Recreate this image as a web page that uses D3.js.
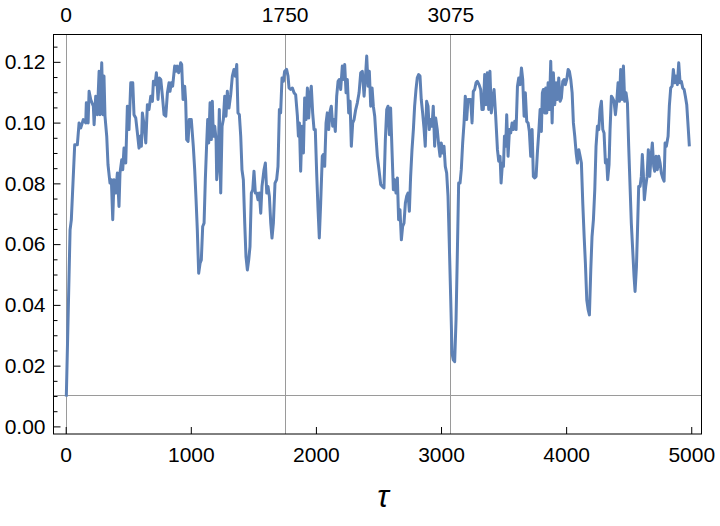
<!DOCTYPE html>
<html>
<head>
<meta charset="utf-8">
<script src="https://cdn.jsdelivr.net/npm/d3@7"></script>
<style>
  html, body { margin: 0; padding: 0; background: #fff; }
  svg text { font-family: "Liberation Sans", Arial, sans-serif; }
</style>
</head>
<body>
<svg id="chart" width="720" height="526"></svg>
<script>
// ---- Data ----
const tau = [
  5,35,45,72,93,107,120,141,160,165,179,187,200,221,227,240,253,267,274,288,298,306,314,328,338,354,365,376,386,400,413,426,434,448,456,466,480,493,506,520,536,546,560,573,586,594,605,613,626,640,653,666,680,693,701,714,725,738,749,760,773,786,800,813,826,
  834,844,855,871,882,892,903,919,927,938,951,959,967,978,988,1004,1020,1031,1042,1052,1063,1074,1084,1095,1106,1116,1127,1135,1143,1154,1164,1172,1180,1191,1202,1207,1218,1228,1239,1250,1260,1271,1281,1292,1305,1319,1332,1345,1356,1367,1377,1388,1399,1409,1420,1431,1441,1452,1463,1473,1484,1495,1505,1516,1527,1537,1548,1559,1569,1585,1596,1607,1617,1628,1639,1649,1660,
  1673,1686,1697,1708,1718,1729,1740,1750,1766,1777,1785,1798,1812,1825,1838,1852,1860,1868,1878,1889,1900,1910,1921,1932,1942,1953,1963,1974,1985,1995,2006,2017,2027,2038,2051,2059,2070,2081,2091,2102,2113,2123,2134,2145,2155,2166,2177,2187,2198,2211,2219,2230,2241,2251,2262,2273,2283,2294,2305,2318,2331,2345,2358,2371,2385,2398,2406,2417,2427,2438,2449,2459,2470,2481,2491,2504,2518,2531,2544,2555,2566,2576,
  2587,2597,2608,2619,2629,2640,2651,2661,2672,2683,2693,2704,2715,2725,2736,2747,2757,2768,2779,2789,2800,2810,2821,2832,2842,2853,2864,2874,2885,2896,2906,2917,2928,2938,2949,2957,2970,2981,2992,3002,3013,3024,3034,3045,3056,3066,3077,3088,3098,3109,3120,3130,3141,3152,3162,3173,3184,3194,3205,3216,3226,3237,3248,3258,3269,3280,3290,3304,3317,3327,3338,3349,3359,3370,3381,3391,3402,3413,
  3424,3437,3451,3461,3472,3480,3491,3499,3507,3517,3525,3536,3547,3557,3568,3579,3589,3600,3611,3621,3632,3643,3653,3664,3674,3685,3696,3706,3717,3728,3738,3749,3760,3770,3781,3792,3802,3810,3818,3829,3837,3845,3856,3866,3877,3888,3898,3909,3920,3930,3941,3952,3962,3973,3984,3994,4005,4016,4026,4037,4048,4058,4069,4080,4090,4101,4112,4122,4133,4144,4154,4165,4176,4186,4197,4207,4218,4229,4239,4250,4261,4271,4282,4293,
  4303,4314,4324,4332,4343,4351,4362,4372,4383,4394,4404,4415,4426,4436,4447,4458,4468,4479,4490,4500,4511,4521,4532,4543,4551,4562,4569,4580,4591,4601,4609,4617,4625,4636,4647,4657,4668,4679,4689,4700,4708,4719,4729,4740,4751,4761,4772,4783,4791,4801,4815,4825,4836,4847,4857,4868,4879,4889,4900,4911,4921,4932,4943,4953,4964,4975,4985
];
const values = [
  0.0098,0.0647,0.0680,0.0927,0.0927,0.0999,0.0982,0.1010,0.0999,0.1065,0.0999,0.1103,0.1076,0.1054,0.0993,0.1087,0.1026,0.1169,0.1026,0.1197,0.1026,0.1153,0.1021,0.0955,0.0862,0.0801,0.0812,0.0680,0.0812,0.0768,0.0834,0.0724,0.0834,0.0878,0.0845,0.0916,0.0867,0.1054,0.0977,0.1131,0.1131,0.1026,0.1015,0.0966,0.0916,0.0955,0.0922,0.1032,0.0993,0.0933,0.1059,0.1043,0.1087,0.1070,0.1136,0.1125,0.1164,0.1076,0.1147,0.1142,0.1087,0.1026,0.1021,0.1098,0.1131,
  0.1103,0.1131,0.1120,0.1186,0.1169,0.1186,0.1164,0.1197,0.1191,0.1076,0.1120,0.1070,0.0944,0.0938,0.1010,0.1010,0.0922,0.0845,0.0746,0.0647,0.0504,0.0537,0.0548,0.0658,0.0669,0.0812,0.0933,0.1010,0.0933,0.1065,0.0944,0.1070,0.0955,0.0988,0.0944,0.0812,0.0867,0.1043,0.0768,0.0988,0.1010,0.1087,0.1021,0.1103,0.1048,0.1092,0.1153,0.1175,0.1153,0.1191,0.1032,0.1026,0.0955,0.0845,0.0812,0.0669,0.0559,0.0515,0.0548,0.0592,0.0768,0.0779,0.0840,0.0768,0.0768,0.0746,0.0768,0.0702,0.0790,0.0845,0.0867,0.0768,0.0790,0.0757,0.0669,0.0620,0.0669,
  0.0801,0.0812,0.0856,0.1043,0.1032,0.1147,0.1136,0.1169,0.1175,0.1153,0.1114,0.1109,0.1114,0.1098,0.1092,0.1021,0.0955,0.0999,0.0840,0.0988,0.0900,0.1081,0.1010,0.1114,0.1015,0.1092,0.1120,0.1032,0.0977,0.0977,0.0834,0.0713,0.0620,0.0735,0.0889,0.0895,0.0856,0.0999,0.1032,0.0977,0.1037,0.1054,0.0988,0.1010,0.0971,0.1087,0.1136,0.1142,0.1109,0.1186,0.1142,0.1191,0.1098,0.1142,0.1032,0.1070,0.0922,0.0999,0.1010,0.1043,0.1065,0.1098,0.1164,0.1169,0.1087,0.1164,0.1219,0.1120,0.1169,0.1054,0.1114,0.1054,0.1021,0.0949,0.0889,0.0845,0.0796,0.0790,0.0785,0.0944,0.1043,0.1054,
  0.0960,0.1048,0.0911,0.0779,0.0812,0.0768,0.0818,0.0680,0.0713,0.0614,0.0658,0.0669,0.0735,0.0757,0.0768,0.0708,0.0823,0.0911,0.0977,0.1054,0.1109,0.1147,0.1158,0.1153,0.1076,0.1032,0.0982,0.0922,0.1070,0.1054,0.0977,0.1010,0.0988,0.1054,0.0922,0.1015,0.0977,0.0927,0.0889,0.0933,0.0900,0.0922,0.0856,0.0834,0.0757,0.0603,0.0427,0.0241,0.0219,0.0213,0.0351,0.0559,0.0801,0.0801,0.0845,0.0933,0.0999,0.1087,0.1010,0.1076,0.1076,0.1076,0.0999,0.1103,0.1109,0.1131,0.1136,0.1125,0.1109,0.1043,0.1043,0.1158,0.1059,0.1164,0.1043,0.1169,0.1032,0.1076,
  0.1109,0.1021,0.0911,0.0873,0.0889,0.0801,0.0867,0.0856,0.0955,0.0922,0.1026,0.0889,0.0977,0.0966,0.0999,0.0977,0.1004,0.0977,0.1120,0.1147,0.1125,0.1180,0.1142,0.1021,0.1098,0.1004,0.0999,0.0971,0.0889,0.0977,0.0823,0.0818,0.0823,0.0900,0.0966,0.1043,0.0971,0.1098,0.1109,0.1032,0.1114,0.1032,0.1131,0.1043,0.1202,0.0999,0.1164,0.1059,0.1131,0.1076,0.1147,0.1070,0.1081,0.1136,0.1142,0.1125,0.1142,0.1175,0.1169,0.1142,0.1098,0.0999,0.0955,0.0900,0.0867,0.0911,0.0889,0.0867,0.0735,0.0625,0.0537,0.0416,0.0384,0.0367,0.0515,0.0625,0.0680,0.0779,0.0922,0.0988,0.0977,0.1043,0.1070,0.0977,
  0.0966,0.0867,0.0878,0.0812,0.0862,0.0977,0.1087,0.1081,0.1070,0.1026,0.1065,0.1131,0.1070,0.1175,0.1076,0.1186,0.1070,0.1098,0.1065,0.0922,0.0790,0.0669,0.0581,0.0493,0.0444,0.0526,0.0625,0.0790,0.0790,0.0823,0.0895,0.0834,0.0746,0.0790,0.0823,0.0911,0.0823,0.0889,0.0933,0.0856,0.0840,0.0889,0.0845,0.0889,0.0867,0.0834,0.0818,0.0807,0.0933,0.0922,0.0955,0.1054,0.1114,0.1120,0.1175,0.1131,0.1153,0.1125,0.1197,0.1131,0.1136,0.1114,0.1109,0.1087,0.1059,0.0988,0.0922
];
const xTicks = [0, 1000, 2000, 3000, 4000, 5000];
const xTopTicks = [0, 1750, 3075];
const yTicks = [0.00, 0.02, 0.04, 0.06, 0.08, 0.10, 0.12];
const yMinorTicks = [0.005,0.01,0.015,0.025,0.03,0.035,0.045,0.05,0.055,0.065,0.07,0.075,0.085,0.09,0.095,0.105,0.11,0.115,0.125];
const hLine = [0.0105];
const xLabel = "τ";

// ---- Layout ----
const svg = d3.select("#chart");
const L = 53.5, R = 701.5, T = 34.5, B = 434;
const x = d3.scaleLinear().domain([-97.5, 5082]).range([L, R]);
const y = d3.scaleLinear().domain([-0.0025, 0.129]).range([B, T]);

svg.append("rect").attr("width", 720).attr("height", 526).attr("fill", "#fff");

// grid lines
const grid = svg.append("g").attr("stroke", "#9a9a9a").attr("stroke-width", 1);
grid.selectAll("line.v").data(xTopTicks).join("line")
  .attr("x1", d => Math.round(x(d)) + 0.5).attr("x2", d => Math.round(x(d)) + 0.5)
  .attr("y1", T).attr("y2", B);
grid.selectAll("line.h").data(hLine).join("line")
  .attr("x1", L).attr("x2", R)
  .attr("y1", d => Math.round(y(d)) + 0.5).attr("y2", d => Math.round(y(d)) + 0.5);

// data line
const pts = tau.map((t, i) => [t, values[i]]);
svg.append("path")
  .datum(pts)
  .attr("fill", "none")
  .attr("stroke", "#5E81B5")
  .attr("stroke-width", 3)
  .attr("stroke-linejoin", "round")
  .attr("d", d3.line().x(d => x(d[0])).y(d => y(d[1])));

// axes
const fs = "21px";
const gx = svg.append("g").attr("transform", `translate(0,${B})`)
  .call(d3.axisBottom(x).tickValues(xTicks).tickSize(-7).tickPadding(13).tickFormat(d3.format("d")));
gx.select(".domain").remove();
gx.selectAll("text").attr("font-size", fs).attr("fill", "#000").style("font-family", "Liberation Sans, Arial, sans-serif");
gx.selectAll("line").attr("stroke", "#000");

const gt = svg.append("g").attr("transform", `translate(0,${T})`)
  .call(d3.axisTop(x).tickValues(xTopTicks).tickSize(0).tickPadding(13).tickFormat(d3.format("d")));
gt.select(".domain").remove();
gt.selectAll("line").remove();
gt.selectAll("text").attr("font-size", fs).attr("fill", "#000").style("font-family", "Liberation Sans, Arial, sans-serif");

const gy = svg.append("g").attr("transform", `translate(${L},0)`)
  .call(d3.axisLeft(y).tickValues(yTicks).tickSize(-7).tickPadding(8).tickFormat(d3.format(".2f")));
gy.select(".domain").remove();
gy.selectAll("text").attr("font-size", fs).attr("fill", "#000").style("font-family", "Liberation Sans, Arial, sans-serif");
gy.selectAll("line").attr("stroke", "#000");

const gym = svg.append("g").attr("transform", `translate(${L},0)`)
  .call(d3.axisLeft(y).tickValues(yMinorTicks).tickSize(-4).tickFormat(""));
gym.select(".domain").remove();
gym.selectAll("line").attr("stroke", "#000");

// frame
svg.append("rect").attr("x", L).attr("y", T).attr("width", R - L).attr("height", B - T)
  .attr("fill", "none").attr("stroke", "#000").attr("stroke-width", 1);

// x label
svg.append("text").attr("x", 383).attr("y", 507).attr("text-anchor", "middle")
  .attr("font-size", "31px").attr("font-style", "italic").attr("fill", "#000")
  .text(xLabel);
</script>
</body>
</html>
